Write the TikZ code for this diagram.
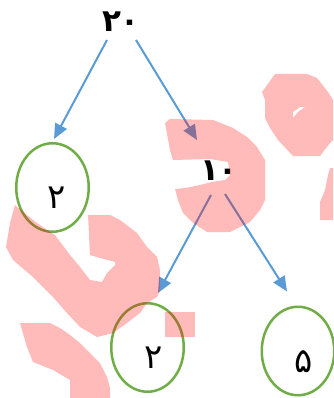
\documentclass[tikz,border=0pt]{standalone}
\usepackage{fontspec}
\newfontfamily\arabicfont[Script=Arabic]{DejaVu Sans}
\usetikzlibrary{shapes.geometric,arrows.meta}
\definecolor{arrblue}{HTML}{5B9BD5}
\definecolor{cgreen}{HTML}{70AD47}
\begin{document}
\begin{tikzpicture}[x=1pt,y=-1pt,
  arr/.style={draw=arrblue, line width=2pt, -{Triangle[length=15pt,width=13pt]}},
  ring/.style={draw=cgreen, line width=2.5pt, ellipse, minimum width=72.5pt, minimum height=88.5pt, inner sep=0pt},
  digit/.style={font=\arabicfont\fontsize{34}{34}\selectfont, inner sep=0pt, anchor=base},
  bigdigit/.style={font=\arabicfont\bfseries\fontsize{31}{31}\selectfont, inner sep=0pt, anchor=base},
  blob/.style={fill=red, fill opacity=0.27, draw=none}]
\useasboundingbox (0,0) rectangle (333,398);
% nodes
\node[bigdigit] (n20) at (121,32) {۲۰};
\node[bigdigit] (n10) at (219,180) {۱۰};
\node[ring] (c2a) at (52.5,187.5) {};
\node[ring] (c2b) at (147.5,347.5) {};
\node[ring] (c5) at (298,351) {};
\node[digit] (t2a) at (57,208) {۲};
\node[digit] (t2b) at (154,368) {۲};
\node[digit] (t5) at (304,372) {۵};
% connectors
\draw[arr] ([shift={(-14,8)}]n20.base) -- ([shift={(1.5,-3)}]c2a.north);
\draw[arr] ([shift={(15,8)}]n20.base) -- ([shift={(-22,-40)}]n10.base);
\draw[arr] ([shift={(-8,15)}]n10.base) -- ([shift={(10.5,-9)}]c2b.north);
\draw[arr] ([shift={(6,14)}]n10.base) -- ([shift={(-11,-14)}]c5.north);
% pink overlay
\fill[blob] (170,119) -- (213,120) -- (233,128) -- (247,137) -- (257,147) -- (265,160) -- (265,200) -- (260,210) -- (250,222) -- (230,232) -- (207,232) -- (193,223) -- (183,213) -- (178,200) -- (175,189) -- (185,188) -- (200,185) -- (212,182) -- (225,180) -- (230,175) -- (228,162) -- (210,159) -- (173,160) -- (170,150) -- (165,123) -- cycle;
\fill[blob] (275,74) -- (307,74) -- (317,78) -- (328,92) -- (333,100) -- (333,140) -- (330,143) -- (320,156) -- (293,156) -- (278,140) -- (270,128) -- (265,118) -- (265,100) -- (262,92) -- cycle (293,118) -- (298,112) -- (305,107) -- (300,107) -- (293,112) -- cycle;
\fill[blob] (330,168) -- (333,168) -- (333,220) -- (320,220) -- (320,202) -- (325,190) -- (328,175) -- cycle;
\fill[blob] (15,205) -- (27,215) -- (37,223) -- (50,232) -- (55,235) -- (70,255) -- (80,267) -- (90,280) -- (102,282) -- (107,273) -- (115,265) -- (115,262) -- (100,258) -- (90,255) -- (88,215) -- (110,215) -- (120,220) -- (137,233) -- (147,247) -- (157,257) -- (160,270) -- (160,290) -- (157,297) -- (147,303) -- (140,313) -- (127,323) -- (113,333) -- (97,337) -- (80,327) -- (67,313) -- (53,297) -- (33,277) -- (13,260) -- (6,247) -- (10,223) -- cycle;
\fill[blob] (165,312) rectangle (195,337);
\fill[blob] (20,323) -- (50,323) -- (60,328) -- (70,335) -- (80,343) -- (90,353) -- (100,363) -- (107,377) -- (110,388) -- (110,398) -- (70,398) -- (70,380) -- (53,370) -- (33,362) -- (27,347) -- (22,330) -- cycle;
\end{tikzpicture}
\end{document}
